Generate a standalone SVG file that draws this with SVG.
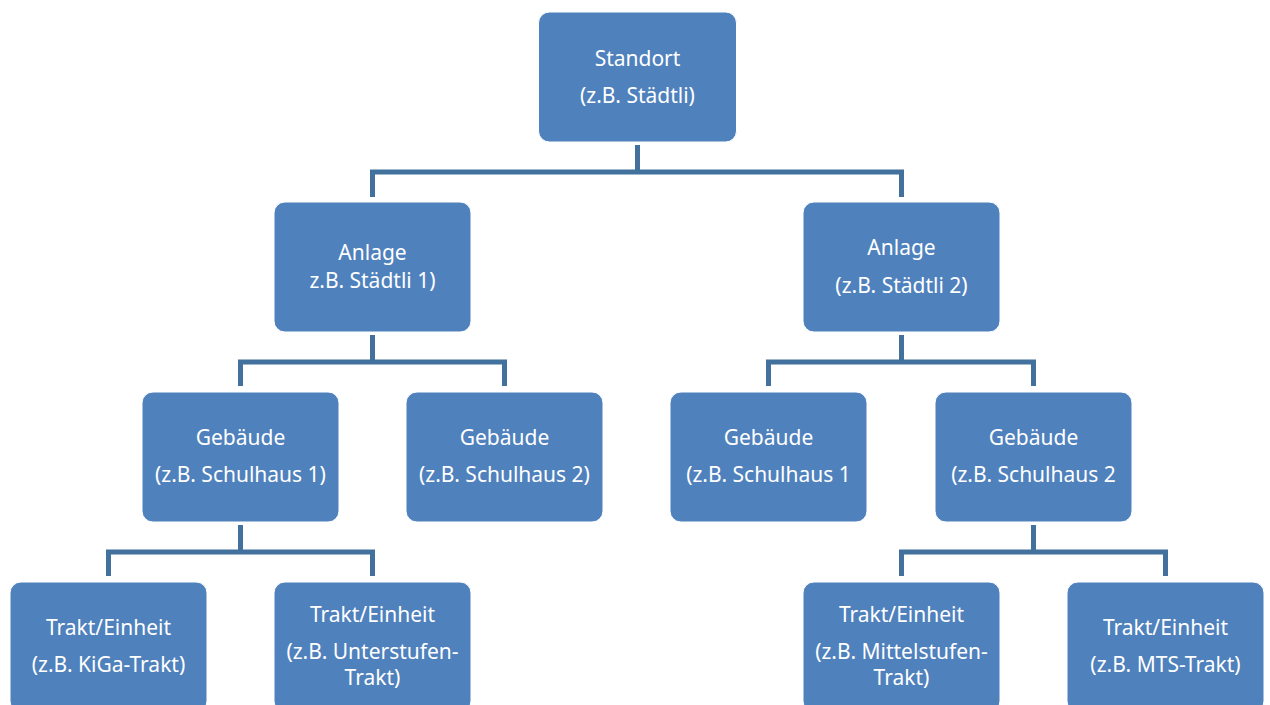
<svg xmlns="http://www.w3.org/2000/svg" width="1270" height="705" viewBox="0 0 1270 705">
<style>
.box{fill:#4F81BD;stroke:#ffffff;stroke-width:1}
.t{font-family:"Noto Sans","Open Sans",sans-serif;font-size:21px;fill:#ffffff;text-anchor:middle}
.c{fill:none;stroke:#41719C;stroke-width:5;stroke-linejoin:miter}
</style>
<rect width="1270" height="705" fill="#ffffff"/>
<g id="connectors">
<path class="c" d="M637.5,145 V172"/>
<path class="c" d="M372.5,197 V172 H901.5 V197"/>
<path class="c" d="M372.5,335 V362"/>
<path class="c" d="M240.5,386 V362 H504.5 V386"/>
<path class="c" d="M901.5,335 V362"/>
<path class="c" d="M768.5,386 V362 H1033.5 V386"/>
<path class="c" d="M240.5,525 V552"/>
<path class="c" d="M108.5,576 V552 H372.5 V576"/>
<path class="c" d="M1033.5,525 V552"/>
<path class="c" d="M901.5,576 V552 H1165.5 V576"/>
</g>
<g id="standort">
<rect class="box" x="538.5" y="12" width="198" height="130" rx="11"/>
<text class="t" x="637.5" y="66">Standort</text>
<text class="t" x="637.5" y="103">(z.B. Städtli)</text>
</g>
<g id="anlage1">
<rect class="box" x="274" y="202" width="197" height="130" rx="11"/>
<text class="t" x="372.5" y="260">Anlage</text>
<text class="t" x="372.5" y="288">z.B. Städtli 1)</text>
</g>
<g id="anlage2">
<rect class="box" x="803" y="202" width="197" height="130" rx="11"/>
<text class="t" x="901.5" y="255">Anlage</text>
<text class="t" x="901.5" y="293">(z.B. Städtli 2)</text>
</g>
<g id="gebaeude1">
<rect class="box" x="142" y="392" width="197" height="130" rx="11"/>
<text class="t" x="240.5" y="445">Gebäude</text>
<text class="t" x="240.5" y="482">(z.B. Schulhaus 1)</text>
</g>
<g id="gebaeude2">
<rect class="box" x="406" y="392" width="197" height="130" rx="11"/>
<text class="t" x="504.5" y="445">Gebäude</text>
<text class="t" x="504.5" y="482">(z.B. Schulhaus 2)</text>
</g>
<g id="gebaeude3">
<rect class="box" x="670" y="392" width="197" height="130" rx="11"/>
<text class="t" x="768.5" y="445">Gebäude</text>
<text class="t" x="768.5" y="482">(z.B. Schulhaus 1</text>
</g>
<g id="gebaeude4">
<rect class="box" x="935" y="392" width="197" height="130" rx="11"/>
<text class="t" x="1033.5" y="445">Gebäude</text>
<text class="t" x="1033.5" y="482">(z.B. Schulhaus 2</text>
</g>
<g id="trakt1">
<rect class="box" x="10" y="582" width="197" height="130" rx="11"/>
<text class="t" x="108.5" y="635">Trakt/Einheit</text>
<text class="t" x="108.5" y="672">(z.B. KiGa-Trakt)</text>
</g>
<g id="trakt2">
<rect class="box" x="274" y="582" width="197" height="130" rx="11"/>
<text class="t" x="372.5" y="622">Trakt/Einheit</text>
<text class="t" x="372.5" y="659">(z.B. Unterstufen-</text>
<text class="t" x="372.5" y="685">Trakt)</text>
</g>
<g id="trakt3">
<rect class="box" x="803" y="582" width="197" height="130" rx="11"/>
<text class="t" x="901.5" y="622">Trakt/Einheit</text>
<text class="t" x="901.5" y="659">(z.B. Mittelstufen-</text>
<text class="t" x="901.5" y="685">Trakt)</text>
</g>
<g id="trakt4">
<rect class="box" x="1067" y="582" width="197" height="130" rx="11"/>
<text class="t" x="1165.5" y="635">Trakt/Einheit</text>
<text class="t" x="1165.5" y="672">(z.B. MTS-Trakt)</text>
</g>
</svg>
